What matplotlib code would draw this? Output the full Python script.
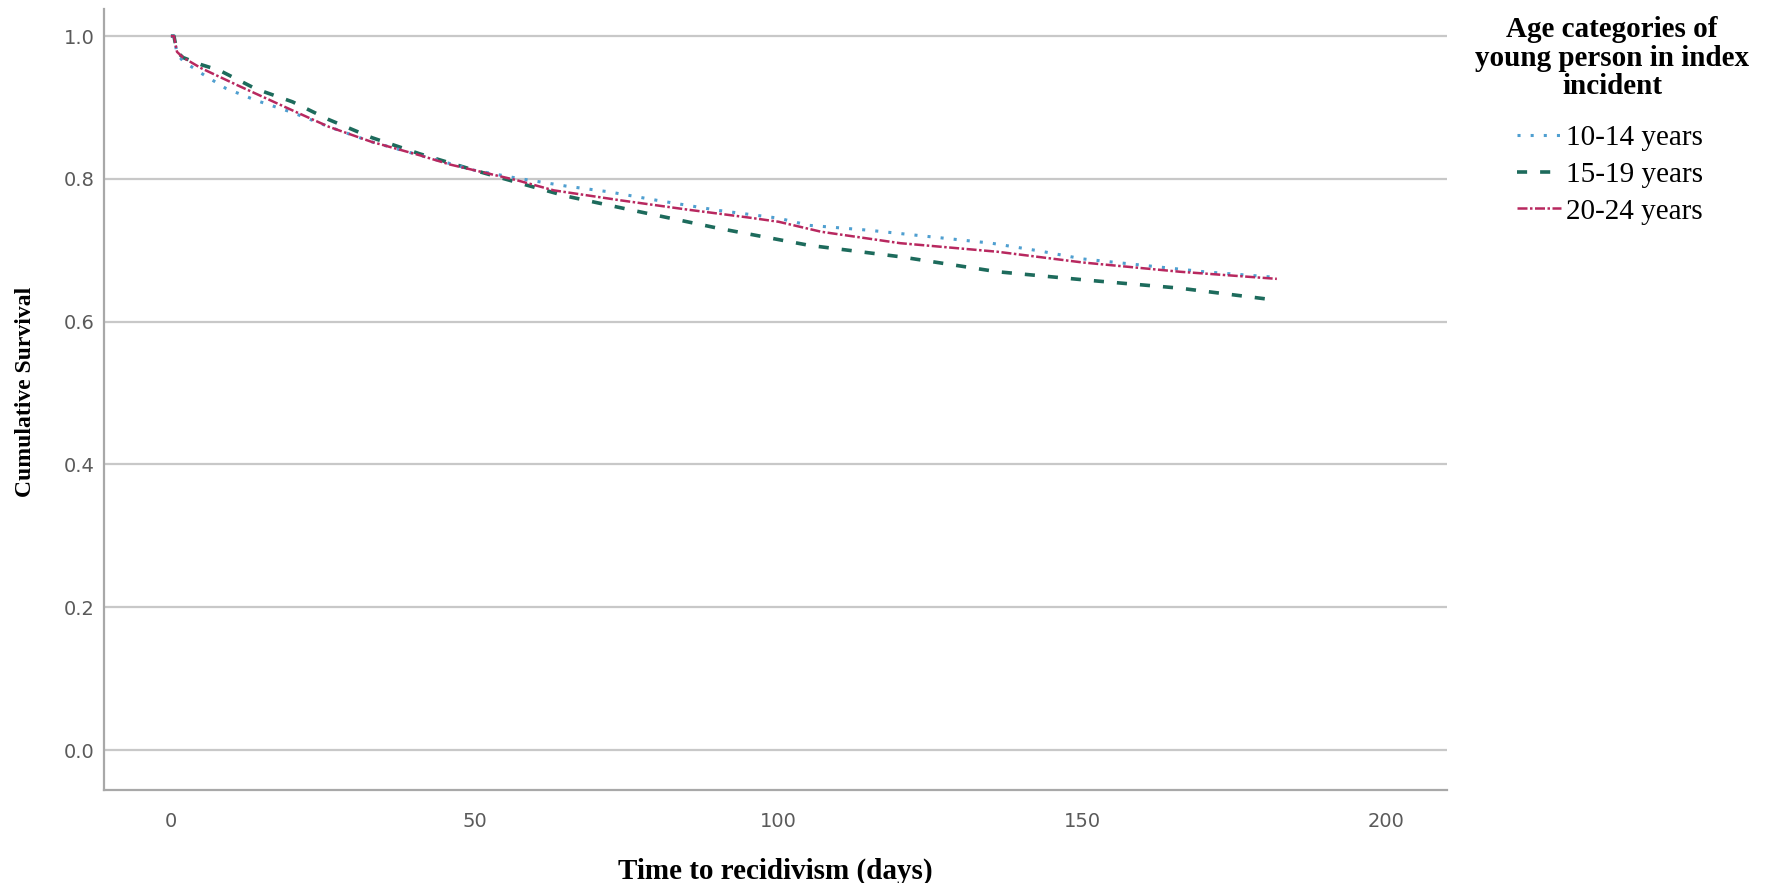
#!/usr/bin/env python3
"""
Kaplan-Meier style survival curves by age category (time to recidivism).

Output:
  - out.png
"""

import matplotlib

matplotlib.use("Agg")
import matplotlib.pyplot as plt


# curve values (days, cumulative survival)
days_10_14 = [0, 0.5, 1, 2, 5, 9, 14, 20, 26, 33, 41, 50, 57, 65, 72, 80, 90, 100,
              105, 115, 125, 135, 143, 150, 160, 170, 182]
surv_10_14 = [1.0, 1.0, 0.975, 0.965, 0.948, 0.927, 0.910, 0.893, 0.873, 0.852, 0.833,
              0.812, 0.801, 0.790, 0.782, 0.770, 0.756, 0.745, 0.735, 0.728, 0.719,
              0.710, 0.699, 0.688, 0.679, 0.670, 0.662]

days_15_19 = [0, 0.5, 1, 2, 5, 8, 14, 20, 26, 33, 41, 50, 57, 65, 76, 90, 105, 120,
              136, 151, 166, 182]
surv_15_19 = [1.0, 1.0, 0.978, 0.970, 0.960, 0.952, 0.926, 0.908, 0.883, 0.858, 0.835,
              0.812, 0.795, 0.776, 0.756, 0.731, 0.707, 0.691, 0.670, 0.658, 0.647, 0.630]

days_20_24 = [0, 0.5, 1, 2, 5, 11, 20, 26, 33, 41, 46, 50, 57, 63, 74, 85, 95, 100,
              107, 120, 136, 150, 166, 182]
surv_20_24 = [1.0, 1.0, 0.978, 0.970, 0.955, 0.931, 0.896, 0.873, 0.852, 0.833, 0.820,
              0.812, 0.798, 0.784, 0.770, 0.757, 0.746, 0.740, 0.726, 0.710, 0.698,
              0.683, 0.670, 0.660]

group_labels = ["10-14 years", "15-19 years", "20-24 years"]
legend_title = "Age categories of\nyoung person in index\nincident"
y_ticks = [0.0, 0.2, 0.4, 0.6, 0.8, 1.0]
x_ticks = [0, 50, 100, 150, 200]


def main() -> None:
    fig = plt.figure(figsize=(17.67, 8.83), dpi=100)
    ax = fig.add_axes([0.0589, 0.1053, 0.7600, 0.8845])

    ax.plot(days_10_14, surv_10_14, color="#4f9fd0", linestyle=(0, (1, 3.3)),
            linewidth=2.2, label=group_labels[0], zorder=3)
    ax.plot(days_15_19, surv_15_19, color="#1d6b5c", linestyle=(0, (2.8, 3.6)),
            linewidth=2.6, label=group_labels[1], zorder=2)
    ax.plot(days_20_24, surv_20_24, color="#b8285f", linestyle=(0, (4, 1, 1, 1)),
            linewidth=1.8, label=group_labels[2], zorder=4)

    ax.set_xlim(-11, 210)
    ax.set_ylim(-0.056, 1.038)
    ax.set_xticks(x_ticks)
    ax.set_yticks(y_ticks)
    ax.set_yticklabels([f"{v:.1f}" for v in y_ticks])

    ax.yaxis.grid(True, color="#c8c8c8", linewidth=1.6)
    ax.set_axisbelow(True)
    for side in ("top", "right"):
        ax.spines[side].set_visible(False)
    for side in ("left", "bottom"):
        ax.spines[side].set_color("#a8a8a8")
        ax.spines[side].set_linewidth(1.6)

    ax.tick_params(axis="both", length=0, labelsize=14, labelcolor="#5a5a5a")
    ax.tick_params(axis="x", pad=16)
    ax.tick_params(axis="y", pad=7)

    ax.set_xlabel("Time to recidivism (days)", family="Liberation Serif",
                  weight="bold", size=21)
    ax.set_ylabel("Cumulative Survival", family="Liberation Serif",
                  weight="bold", size=17)
    ax.xaxis.set_label_coords(0.5, -0.087)
    ax.yaxis.set_label_coords(-0.0506, 0.51)

    # legend title drawn on its own, entries below it
    fig.text(1612 / 1767, 1 - 16 / 883, legend_title, ha="center", va="top",
             family="Liberation Serif", weight="bold", size=21, linespacing=1.08)
    fig.legend(loc="upper center", bbox_to_anchor=(1610 / 1767, 1 - 125 / 883),
               frameon=False, prop=dict(family="Liberation Serif", size=21),
               handlelength=1.5, handletextpad=0.15, labelspacing=0.35,
               borderpad=0, borderaxespad=0)

    fig.savefig("out.png", dpi=100)


if __name__ == "__main__":
    main()
